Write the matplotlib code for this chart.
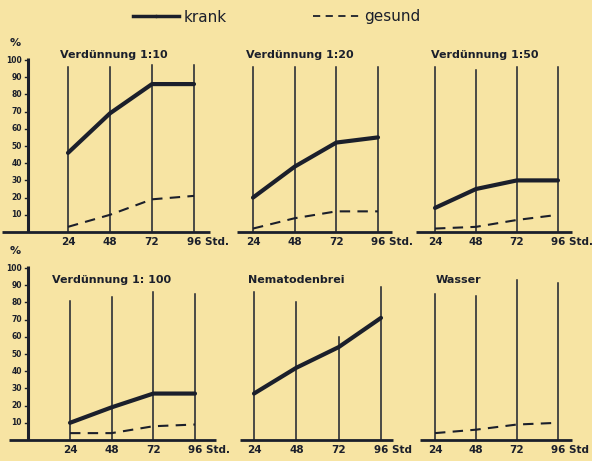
import matplotlib
matplotlib.use("Agg")
import matplotlib.pyplot as plt
from matplotlib.lines import Line2D

# ---- data (percent of larvae) ----
hours = [24, 48, 72, 96]
panel_titles = ["Verdünnung 1:10", "Verdünnung 1:20", "Verdünnung 1:50",
                "Verdünnung 1: 100", "Nematodenbrei", "Wasser"]
krank_1_10 = [46, 69, 86, 86]
gesund_1_10 = [3, 10, 19, 21]
krank_1_20 = [20, 38, 52, 55]
gesund_1_20 = [2, 8, 12, 12]
krank_1_50 = [14, 25, 30, 30]
gesund_1_50 = [2, 3, 7, 10]
krank_1_100 = [10, 19, 27, 27]
gesund_1_100 = [4, 4, 8, 9]
krank_brei = [27, 42, 54, 71]
gesund_wasser = [4, 6, 9, 10]
y_ticks = [10, 20, 30, 40, 50, 60, 70, 80, 90, 100]

krank = [krank_1_10, krank_1_20, krank_1_50, krank_1_100, krank_brei, None]
gesund = [gesund_1_10, gesund_1_20, gesund_1_50, gesund_1_100, None, gesund_wasser]

# ---- layout (pixels of the scan) ----
W, H = 592, 461
BG = "#f7e4a3"
INK = "#1b1f2b"

# x of 24h, x of 96h, y of baseline, y of 100 %
cells = [(68, 194, 232, 60), (253, 378, 232, 60), (435, 558, 232, 60),
         (70, 195, 440, 268), (254, 381, 440, 268), (435, 558, 440, 268)]
base_span = [(-14, 105), (15, 104), (13, 104), (-11, 108), (16, 103), (15, 104)]
grid_top = [[96, 96, 97, 97], [96, 96, 96, 96], [96, 94, 96, 96],
            [81, 83, 86, 85], [86, 80, 60, 89], [85, 84, 93, 91]]
title_pos = [(50, 103), (51, 103), (53, 103), (48, 93), (48, 93), (38, 93)]
unit_lbl = ["Std.", "Std.", "Std.", "Std.", "Std", "Std"]

fig = plt.figure(figsize=(W / 100, H / 100), dpi=100, facecolor=BG)

for i in range(6):
  x24, x96, base, top100 = cells[i]
  sx = (x96 - x24) / 72.0
  sy = (base - top100) / 100.0
  lp, rp, tp, bp = x24 - 72, x96 + 50, base - 200, base + 25
  ax = fig.add_axes([lp / W, 1 - bp / H, (rp - lp) / W, (bp - tp) / H])
  ax.set_xlim(24 + (lp - x24) / sx, 24 + (rp - x24) / sx)
  ax.set_ylim((base - bp) / sy, (base - tp) / sy)
  ax.axis("off")
  ax.patch.set_alpha(0)

  # baseline and the hour verticals
  ax.plot(base_span[i], [0, 0], color=INK, lw=2.0, solid_capstyle="butt")
  for h, t in zip(hours, grid_top[i]):
    ax.plot([h, h], [0, t], color=INK, lw=1.1)

  if krank[i] is not None:
    ax.plot(hours, krank[i], color=INK, lw=3.0, solid_capstyle="round")
  if gesund[i] is not None:
    ax.plot(hours, gesund[i], color=INK, lw=1.5, dashes=(5, 3.5))

  ax.text(title_pos[i][0], title_pos[i][1], panel_titles[i], ha="center", va="center",
          fontsize=8, fontweight="bold", color=INK)

  for h in hours[:-1]:
    ax.annotate(str(h), (h, 0), xytext=(0, -5), textcoords="offset pixels",
                ha="center", va="top", fontsize=7.5, fontweight="bold", color=INK)
  ax.annotate("96 " + unit_lbl[i], (hours[-1], 0), xytext=(-7, -5), textcoords="offset pixels",
              ha="left", va="top", fontsize=7.5, fontweight="bold", color=INK)

  # percent axis only on the left column
  if i % 3 == 0:
    yx = 24 + (28 - x24) / sx
    ax.plot([yx, yx], [0, 101], color=INK, lw=2.2, solid_capstyle="butt")
    for v in y_ticks:
      ax.plot([yx - 3 / sx, yx], [v, v], color=INK, lw=1.0)
      ax.annotate(str(v), (yx, v), xytext=(-6, 0), textcoords="offset pixels",
                  ha="right", va="center", fontsize=5.5, fontweight="bold", color=INK)
    ax.annotate("%", (yx, 101), xytext=(-13, 10), textcoords="offset pixels",
                ha="center", va="bottom", fontsize=8, fontweight="bold", color=INK)

# legend across the top
handles = [Line2D([], [], color=INK, lw=2.5, marker=".", markersize=3, markevery=[0, 1]),
           Line2D([], [], color=INK, lw=1.3, dashes=(4, 3))]
fig.legend(handles, ["krank", "gesund"], loc="center", bbox_to_anchor=(0.467, 1 - 17 / H),
           ncol=2, frameon=False, fontsize=11, handlelength=3.0, handletextpad=0.3,
           columnspacing=5.7, labelcolor=INK)

fig.savefig("out.png", dpi=100, facecolor=BG)
